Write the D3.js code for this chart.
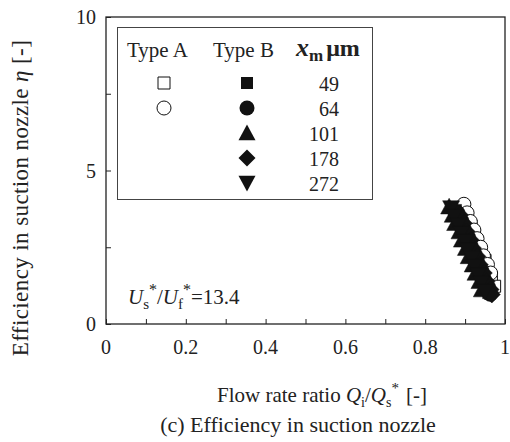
<!DOCTYPE html>
<html>
<head>
<meta charset="utf-8">
<script src="https://cdn.jsdelivr.net/npm/d3@7"></script>
<style>
    body { margin: 0; background: #fff; }
    text { font-family: "Liberation Serif", "Times New Roman", serif; fill: #222; }
    .axis-line { stroke: #222; stroke-width: 1.3; fill: none; }
    .legend-box { fill: #fff; stroke: #444; stroke-width: 1; }
</style>
</head>
<body>
<div id="chart"></div>
<script>

// Axis ticks
var xTicks = [0, 0.2, 0.4, 0.6, 0.8, 1];
var xMinorTicks = [0, 0.1, 0.2, 0.3, 0.4, 0.5, 0.6, 0.7, 0.8, 0.9, 1];
var yTicks = [0, 5, 10];
var yMinorTicks = [0, 2.5, 5, 7.5, 10];

// Legend values, particle size x_m [um]
var sizeLabels = ["49", "64", "101", "178", "272"];

// Type A (open symbols)
var a49_q   = [0.898, 0.904, 0.915, 0.922, 0.931, 0.939, 0.950, 0.956, 0.966, 0.974];
var a49_eta = [3.75, 3.47, 3.19, 2.91, 2.63, 2.35, 2.07, 1.79, 1.51, 1.23];
var a64_q   = [0.897, 0.905, 0.913, 0.922, 0.930, 0.939, 0.946, 0.956, 0.964];
var a64_eta = [3.90, 3.62, 3.34, 3.06, 2.78, 2.50, 2.22, 1.94, 1.66];

// Type B (filled symbols)
var b49_q    = [0.876, 0.883, 0.893, 0.899, 0.910, 0.916, 0.927, 0.933, 0.943, 0.950, 0.959];
var b49_eta  = [3.70, 3.43, 3.16, 2.89, 2.62, 2.35, 2.08, 1.81, 1.54, 1.27, 1.02];
var b64_q    = [0.881, 0.891, 0.897, 0.908, 0.914, 0.924, 0.931, 0.941, 0.947, 0.958, 0.963];
var b64_eta  = [3.62, 3.36, 3.09, 2.82, 2.55, 2.28, 2.01, 1.74, 1.47, 1.20, 0.98];
var b101_q   = [0.860, 0.869, 0.875, 0.886, 0.892, 0.902, 0.909, 0.919, 0.926, 0.936, 0.942];
var b101_eta = [3.82, 3.55, 3.28, 3.01, 2.74, 2.47, 2.20, 1.93, 1.66, 1.39, 1.12];
var b178_q   = [0.887, 0.897, 0.904, 0.914, 0.920, 0.931, 0.937, 0.947, 0.954, 0.964, 0.967];
var b178_eta = [3.55, 3.28, 3.01, 2.74, 2.47, 2.20, 1.93, 1.66, 1.39, 1.12, 0.96];
var b272_q   = [0.865, 0.872, 0.883, 0.890, 0.900, 0.906, 0.917, 0.923, 0.933, 0.940, 0.950];
var b272_eta = [3.78, 3.50, 3.22, 2.95, 2.68, 2.41, 2.14, 1.87, 1.60, 1.33, 1.06];


/*
 * Marker shapes (centered on 0,0)
 */
function markerPath(shape, s){
    var h = s / 2;
    switch(shape){
        case "square":
            return "M" + (-h) + "," + (-h) + "H" + h + "V" + h + "H" + (-h) + "Z";
        case "circle":
            return "M" + (-h) + ",0A" + h + "," + h + " 0 1,0 " + h + ",0A" + h + "," + h + " 0 1,0 " + (-h) + ",0Z";
        case "triangle":
            return "M0," + (-h) + "L" + h + "," + (h * 0.85) + "L" + (-h) + "," + (h * 0.85) + "Z";
        case "triangleDown":
            return "M0," + h + "L" + h + "," + (-h * 0.85) + "L" + (-h) + "," + (-h * 0.85) + "Z";
        case "diamond":
            return "M0," + (-h) + "L" + h + ",0L0," + h + "L" + (-h) + ",0Z";
    }
}


/*
 * Chart
 */
var margin = { top: 17, right: 5, bottom: 118, left: 106 };
var totalWidth = 510, totalHeight = 442;
var width = totalWidth - margin.left - margin.right;
var height = totalHeight - margin.top - margin.bottom;

var svg = d3.select("#chart").append("svg")
    .attr("width", totalWidth)
    .attr("height", totalHeight);

var g = svg.append("g")
    .attr("transform", "translate(" + margin.left + "," + margin.top + ")");

var x = d3.scaleLinear().domain([0, 1]).range([0, width]);
var y = d3.scaleLinear().domain([0, 10]).range([height, 0]);

// Frame
g.append("rect")
    .attr("class", "axis-line")
    .attr("x", 0).attr("y", 0)
    .attr("width", width).attr("height", height);

// Inward ticks
var xAxis = d3.axisTop(x)
    .tickValues(xMinorTicks)
    .tickSize(5)
    .tickFormat("");
g.append("g")
    .attr("class", "x-axis")
    .attr("transform", "translate(0," + height + ")")
    .call(xAxis);

var yAxis = d3.axisRight(y)
    .tickValues(yMinorTicks)
    .tickSize(5)
    .tickFormat("");
g.append("g")
    .attr("class", "y-axis")
    .call(yAxis);

g.selectAll(".domain").remove();
g.selectAll(".tick line").attr("stroke", "#222");

// Tick labels
g.selectAll(".x-label")
    .data(xTicks)
    .enter().append("text")
    .attr("class", "x-label")
    .attr("x", function(d){ return x(d); })
    .attr("y", height + 30)
    .attr("text-anchor", "middle")
    .style("font-size", "20px")
    .text(function(d){ return d3.format("~g")(d); });

g.selectAll(".y-label")
    .data(yTicks)
    .enter().append("text")
    .attr("class", "y-label")
    .attr("x", -10)
    .attr("y", function(d){ return y(d) + 7; })
    .attr("text-anchor", "end")
    .style("font-size", "20px")
    .text(function(d){ return d; });


/*
 * Data points
 */
var seriesA = [
    { shape: "square", q: a49_q, eta: a49_eta, size: 12 },
    { shape: "circle", q: a64_q, eta: a64_eta, size: 14 }
];
var seriesB = [
    { shape: "square", q: b49_q, eta: b49_eta, size: 12 },
    { shape: "circle", q: b64_q, eta: b64_eta, size: 15 },
    { shape: "triangle", q: b101_q, eta: b101_eta, size: 17 },
    { shape: "diamond", q: b178_q, eta: b178_eta, size: 17 },
    { shape: "triangleDown", q: b272_q, eta: b272_eta, size: 17 }
];

function drawSeries(s, open){
    var pts = s.q.map(function(d, i){ return { q: d, eta: s.eta[i] }; });
    g.append("g").selectAll("path")
        .data(pts)
        .enter().append("path")
        .attr("d", markerPath(s.shape, s.size))
        .attr("transform", function(d){ return "translate(" + x(d.q) + "," + y(d.eta) + ")"; })
        .attr("fill", open ? "#fff" : "#111")
        .attr("stroke", "#111")
        .attr("stroke-width", open ? 1 : 0.5);
}

seriesA.forEach(function(s){ drawSeries(s, true); });
seriesB.forEach(function(s){ drawSeries(s, false); });


/*
 * Legend
 */
var legend = svg.append("g");
legend.append("rect")
    .attr("class", "legend-box")
    .attr("x", 117.5).attr("y", 27.5)
    .attr("width", 255).attr("height", 172);

legend.append("text")
    .attr("x", 127).attr("y", 57)
    .style("font-size", "21px")
    .text("Type A");
legend.append("text")
    .attr("x", 213).attr("y", 57)
    .style("font-size", "21px")
    .text("Type B");

var head = legend.append("text")
    .attr("x", 296).attr("y", 56)
    .style("font-size", "26px")
    .style("font-weight", "bold");
head.append("tspan").style("font-style", "italic").text("x");
head.append("tspan").attr("dy", 5).style("font-size", "17px").text("m");
head.append("tspan").attr("dy", -5).attr("dx", 3).style("font-size", "24px").text("\u03bcm");

var rowY = function(i){ return 83 + i * 25; };

seriesA.forEach(function(s, i){
    legend.append("path")
        .attr("d", markerPath(s.shape, s.size))
        .attr("transform", "translate(164," + rowY(i) + ")")
        .attr("fill", "#fff")
        .attr("stroke", "#111")
        .attr("stroke-width", 1);
});
seriesB.forEach(function(s, i){
    legend.append("path")
        .attr("d", markerPath(s.shape, s.size))
        .attr("transform", "translate(247," + rowY(i) + ")")
        .attr("fill", "#111");
});
legend.selectAll(".size-label")
    .data(sizeLabels)
    .enter().append("text")
    .attr("class", "size-label")
    .attr("x", 339)
    .attr("y", function(d, i){ return rowY(i) + 8; })
    .attr("text-anchor", "end")
    .style("font-size", "20px")
    .text(function(d){ return d; });


// Annotation: velocity ratio
var note = svg.append("text")
    .attr("x", 128).attr("y", 304)
    .style("font-size", "21px");
note.append("tspan").style("font-style", "italic").text("U");
note.append("tspan").attr("dy", 5).style("font-size", "15px").text("s");
note.append("tspan").attr("dy", -14).style("font-size", "16px").text("*");
note.append("tspan").attr("dy", 9).text("/");
note.append("tspan").style("font-style", "italic").text("U");
note.append("tspan").attr("dy", 5).style("font-size", "15px").text("f");
note.append("tspan").attr("dy", -14).style("font-size", "16px").text("*");
note.append("tspan").attr("dy", 9).text("=13.4");


/*
 * Axis titles and caption
 */
var xTitle = svg.append("text")
    .attr("x", 322).attr("y", 402)
    .attr("text-anchor", "middle")
    .style("font-size", "21px");
xTitle.append("tspan").text("Flow rate ratio ");
xTitle.append("tspan").style("font-style", "italic").text("Q");
xTitle.append("tspan").attr("dy", 5).style("font-size", "14px").text("i");
xTitle.append("tspan").attr("dy", -5).text("/");
xTitle.append("tspan").style("font-style", "italic").text("Q");
xTitle.append("tspan").attr("dy", 5).style("font-size", "14px").text("s");
xTitle.append("tspan").attr("dy", -14).style("font-size", "15px").text("*");
xTitle.append("tspan").attr("dy", 9).attr("dx", 7).text("[-]");

var yTitle = svg.append("text")
    .attr("transform", "translate(28,198) rotate(-90)")
    .attr("text-anchor", "middle")
    .style("font-size", "23px")
    .style("letter-spacing", "0.4px");
yTitle.append("tspan").text("Efficiency in suction nozzle ");
yTitle.append("tspan").style("font-style", "italic").text("\u03b7");
yTitle.append("tspan").text(" [-]");

svg.append("text")
    .attr("x", 298).attr("y", 432)
    .attr("text-anchor", "middle")
    .style("font-size", "22px")
    .text("(c) Efficiency in suction nozzle");

</script>
</body>
</html>
